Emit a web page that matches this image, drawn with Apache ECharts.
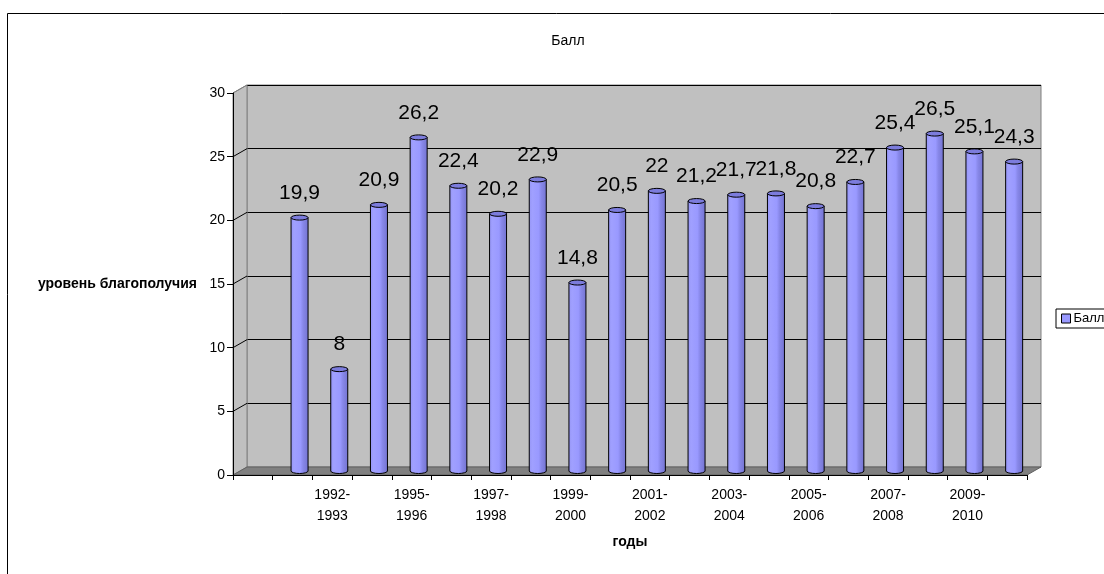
<!DOCTYPE html>
<html>
<head>
<meta charset="utf-8">
<script src="https://cdn.jsdelivr.net/npm/echarts@6/dist/echarts.min.js"></script>
<style>
html,body{margin:0;padding:0;background:#fff;}
#chart{width:1104px;height:574px;}
</style>
</head>
<body>
<div id="chart"></div>
<script>
// ---- data ----
const categories = ['', '1991-1992', '1992-1993', '1994-1995', '1995-1996', '1996-1997', '1997-1998',
  '1998-1999', '1999-2000', '2000-2001', '2001-2002', '2002-2003', '2003-2004', '2004-2005',
  '2005-2006', '2006-2007', '2007-2008', '2008-2009', '2009-2010', '2010-2011'];
const values = [null, 19.9, 8, 20.9, 26.2, 22.4, 20.2, 22.9, 14.8, 20.5, 22, 21.2, 21.7, 21.8,
  20.8, 22.7, 25.4, 26.5, 25.1, 24.3];
const yTicks = [0, 5, 10, 15, 20, 25, 30];
const seriesName = 'Балл';
const titleText = 'Балл';
const yAxisName = 'уровень благополучия';
const xAxisName = 'годы';

// ---- layout ----
const FONT = '"Liberation Sans", Arial, sans-serif';
const FL = 233, FT = 93, FW = 794, FH = 382, DX = 14, DY = 8;
const YMIN = 0, YMAX = 30, YINT = 5;

const chart = echarts.init(document.getElementById('chart'));

function yAt(v, top) { return top + FH * (1 - (v - YMIN) / (YMAX - YMIN)); }

const graphics = [];
// outer border
graphics.push({type: 'polyline', shape: {points: [[7.5, 700], [7.5, 13.5], [1200, 13.5]]},
  style: {fill: 'none', stroke: '#000', lineWidth: 1}, z: 0, silent: true});
// side wall
graphics.push({type: 'polygon', shape: {points: [[FL, FT], [FL + DX, FT - DY], [FL + DX, FT - DY + FH], [FL, FT + FH]]},
  style: {fill: '#C0C0C0', stroke: '#808080', lineWidth: 1}, z: 1, silent: true});
// side wall gridline diagonals
yTicks.forEach(v => {
  if (v === YMIN) return;
  graphics.push({type: 'line', shape: {x1: FL, y1: yAt(v, FT), x2: FL + DX, y2: yAt(v, FT - DY)},
    style: {stroke: v === YMAX ? '#808080' : '#000', lineWidth: 1}, z: 2, silent: true});
});
// floor
graphics.push({type: 'polygon', shape: {points: [[FL, FT + FH], [FL + DX, FT - DY + FH], [FL + DX + FW, FT - DY + FH], [FL + FW, FT + FH]]},
  style: {fill: '#808080', stroke: '#606060', lineWidth: 1}, z: 2, silent: true});

function fmt(v) { return String(v).replace('.', ','); }

const option = {
  animation: false,
  textStyle: {fontFamily: FONT},
  title: {text: titleText, left: 563, top: 29, textAlign: 'center',
    textStyle: {fontFamily: FONT, fontSize: 14, fontWeight: 'normal', color: '#000'}},
  legend: {
    data: [seriesName], left: 1056, top: 309, orient: 'vertical',
    padding: [3, 4, 3, 5], itemWidth: 9, itemHeight: 9, itemGap: 0,
    borderColor: '#000', borderWidth: 1, backgroundColor: '#fff',
    icon: 'rect',
    itemStyle: {color: '#9999FF', borderColor: '#000', borderWidth: 1},
    textStyle: {fontFamily: FONT, fontSize: 13, color: '#000', padding: [0, 0, 0, -2]}
  },
  graphic: graphics,
  grid: [
    {left: FL + DX, top: FT - DY, width: FW, height: FH, show: true, backgroundColor: '#C0C0C0',
      borderColor: '#808080', borderWidth: 1, z: 0},
    {left: FL + DX / 2, top: FT - DY / 2, width: FW, height: FH, show: false},
    {left: FL, top: FT, width: FW, height: FH, show: false}
  ],
  xAxis: [
    {gridIndex: 0, type: 'category', data: categories, show: false},
    {gridIndex: 1, type: 'category', data: categories, show: false},
    {gridIndex: 2, type: 'category', data: categories, boundaryGap: true,
      name: xAxisName, nameLocation: 'middle', nameGap: 60,
      nameTextStyle: {fontFamily: FONT, fontSize: 14, fontWeight: 'bold', color: '#000'},
      axisLine: {show: true, lineStyle: {color: '#000', width: 1}},
      axisTick: {show: true, length: 5, alignWithLabel: false, interval: 0, lineStyle: {color: '#000'}},
      axisLabel: {interval: 1, margin: 10, fontFamily: FONT, fontSize: 14, color: '#000', lineHeight: 21,
        formatter: s => s ? s.replace('-', '-\n') : ''},
      splitLine: {show: false}, z: 10}
  ],
  yAxis: [
    {gridIndex: 0, type: 'value', min: YMIN, max: YMAX, interval: YINT,
      axisLine: {show: false}, axisTick: {show: false}, axisLabel: {show: false},
      splitLine: {show: true, lineStyle: {color: '#000', width: 1}}},
    {gridIndex: 1, type: 'value', min: YMIN, max: YMAX, interval: YINT, show: false, splitLine: {show: false}},
    {gridIndex: 2, type: 'value', min: YMIN, max: YMAX, interval: YINT,
      name: yAxisName, nameLocation: 'middle', nameRotate: 0, nameGap: 36,
      nameTextStyle: {fontFamily: FONT, fontSize: 14, fontWeight: 'bold', color: '#000', align: 'right'},
      axisLine: {show: true, lineStyle: {color: '#000', width: 1}},
      axisTick: {show: true, length: 6, lineStyle: {color: '#000'}},
      axisLabel: {margin: 8, fontFamily: FONT, fontSize: 14, color: '#000'},
      splitLine: {show: false}, z: 10}
  ],
  series: [{
    name: seriesName,
    type: 'custom',
    xAxisIndex: 1, yAxisIndex: 1,
    z: 5,
    itemStyle: {color: '#9999FF', borderColor: '#000'},
    data: values.map((v, i) => [i, v]),
    renderItem: function (params, api) {
      const v = api.value(1);
      if (v == null || isNaN(v)) return null;
      const topPt = api.coord([api.value(0), v]);
      const basePt = api.coord([api.value(0), 0]);
      const w = 17, rx = w / 2, ry = 2.5;
      const cx = topPt[0], yt = topPt[1], yb = basePt[1];
      const x0 = cx - rx, x1 = cx + rx;
      const body = 'M' + x0 + ',' + yt + ' L' + x0 + ',' + yb +
        ' A' + rx + ',' + ry + ' 0 0 0 ' + x1 + ',' + yb +
        ' L' + x1 + ',' + yt + ' Z';
      const cap = 'M' + x0 + ',' + yt + ' A' + rx + ',' + ry + ' 0 1 0 ' + x1 + ',' + yt +
        ' A' + rx + ',' + ry + ' 0 1 0 ' + x0 + ',' + yt + ' Z';
      return {
        type: 'group',
        children: [
          {type: 'path', shape: {pathData: body},
            style: {
              fill: new echarts.graphic.LinearGradient(0, 0, 1, 0, [
                {offset: 0, color: '#9494f4'},
                {offset: 0.2, color: '#a0a0ff'},
                {offset: 0.55, color: '#9999ff'},
                {offset: 0.7, color: '#8787e8'},
                {offset: 1, color: '#7373d0'}
              ]),
              stroke: '#000', lineWidth: 1
            }},
          {type: 'path', shape: {pathData: cap},
            style: {fill: '#7c7cdc', stroke: '#000', lineWidth: 1}},
          {type: 'text', x: cx, y: yt - 14,
            style: {text: fmt(v), fontFamily: FONT, fontSize: 21, fill: '#000',
              align: 'center', verticalAlign: 'bottom'}}
        ]
      };
    }
  }]
};
chart.setOption(option);
</script>
</body>
</html>
